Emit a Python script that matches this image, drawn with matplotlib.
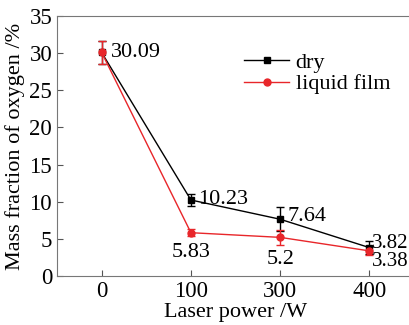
import matplotlib
matplotlib.use("Agg")
import matplotlib.pyplot as plt
from matplotlib.lines import Line2D
import numpy as np

categories = ["0", "100", "300", "400"]
dry = [30.09, 10.23, 7.64, 3.82]
dry_err = [1.5, 0.8, 1.6, 0.9]
liquid = [30.09, 5.83, 5.2, 3.38]
liquid_err = [1.5, 0.5, 1.0, 0.6]
dry_labels = ["30.09", "10.23", "7.64", "3.82"]
liquid_labels = ["", "5.83", "5.2", "3.38"]

red = '#e8262a'
plt.rcParams['font.family'] = ['Liberation Serif', 'DejaVu Serif']
fig = plt.figure(figsize=(4.1, 3.25), dpi=100)
ax = fig.add_axes([57/410, 1-276/325, 1-57/410+0.01, 260/325])
x = np.arange(len(categories))
ax.errorbar(x, dry, yerr=dry_err, color='black', marker='s', ms=4.5, lw=1,
            capsize=3, elinewidth=1)
ax.errorbar(x, liquid, yerr=liquid_err, color=red, marker='o', ms=5, lw=1,
            capsize=3, elinewidth=1)
ax.set_xlim(-0.5, 3.5)
ax.set_ylim(0, 35)
ax.set_xticks(x)
ax.set_xticklabels(categories)
ax.set_yticks(range(0, 36, 5))
ax.tick_params(direction='in', length=4, labelsize=16.5, color='#555555')
for s in ax.spines.values():
    s.set_color('#777777')
ax.set_xlabel("Laser power /W", fontsize=16, labelpad=1)
ax.set_ylabel("Mass fraction of oxygen /%", fontsize=16, labelpad=3)
fs = 16
ax.text(0.1, 30.09, dry_labels[0], fontsize=fs, va='center', ha='left')
ax.text(1.08, 10.3, dry_labels[1], fontsize=fs, va='center', ha='left')
ax.text(2.08, 8.0, dry_labels[2], fontsize=fs, va='center', ha='left')
ax.text(3.03, 4.4, dry_labels[3], fontsize=15, va='center', ha='left')
ax.text(1.0, 3.2, liquid_labels[1], fontsize=fs, va='center', ha='center')
ax.text(2.0, 2.2, liquid_labels[2], fontsize=fs, va='center', ha='center')
ax.text(3.03, 1.9, liquid_labels[3], fontsize=15, va='center', ha='left')
handles = [Line2D([], [], color='black', marker='s', ms=4.5, lw=1),
           Line2D([], [], color=red, marker='o', ms=5, lw=1)]
ax.legend(handles, ['dry', 'liquid film'], loc='upper left',
          bbox_to_anchor=(0.5, 0.895), frameon=False,
          fontsize=16, handlelength=2.0, handletextpad=0.3,
          labelspacing=0.05, borderaxespad=0)
fig.savefig("out.png", dpi=100)
